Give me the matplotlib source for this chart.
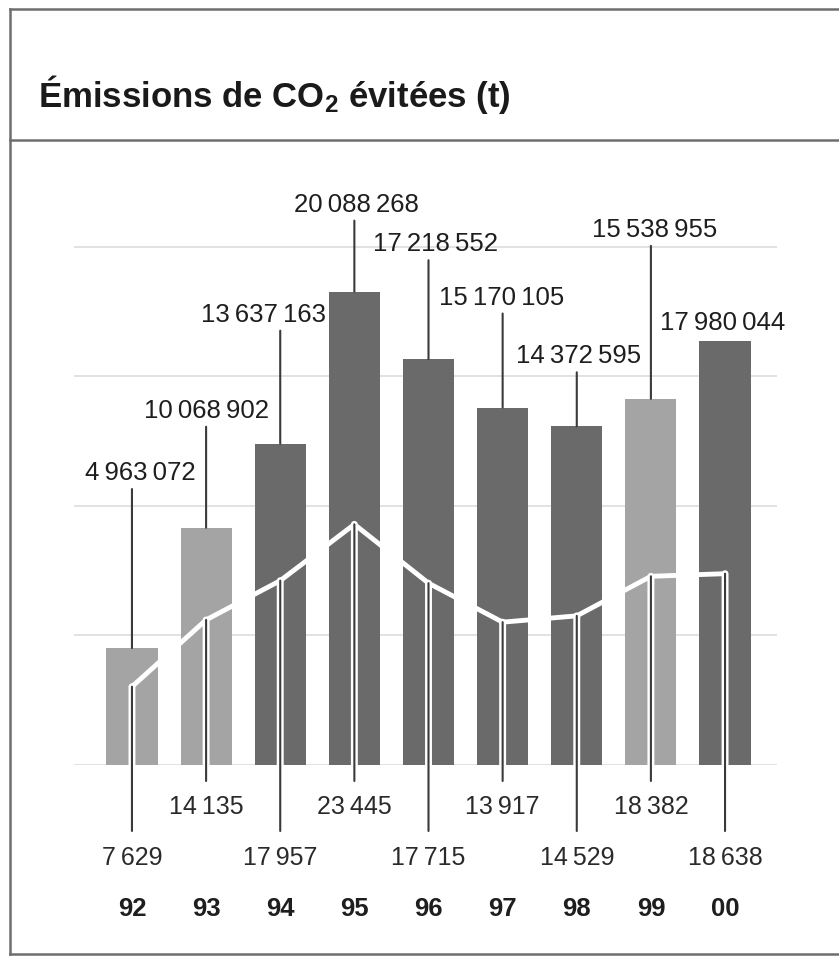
import matplotlib
matplotlib.use('Agg')
import matplotlib.pyplot as plt
from matplotlib.lines import Line2D
from matplotlib import transforms
import matplotlib.patheffects as pe

plt.rcParams['font.family'] = ['Liberation Sans', 'DejaVu Sans']
plt.rcParams['mathtext.fontset'] = 'custom'
plt.rcParams['mathtext.rm'] = 'Liberation Sans:bold'
plt.rcParams['mathtext.default'] = 'rm'

# data
years = ['92', '93', '94', '95', '96', '97', '98', '99', '00']
co2_avoided = [4963072, 10068902, 13637163, 20088268, 17218552,
               15170105, 14372595, 15538955, 17980044]
line_values = [7629, 14135, 17957, 23445, 17715, 13917, 14529, 18382, 18638]
light_bar = [True, True, False, False, False, False, False, True, False]

# label layout (pixels)
label_rise = [176, 118, 130, 88, 116, 111, 71, 170, 19]
label_dx = [8, 0, -17, 2, 7, -1, 2, 4, -2]

W, H = 839, 962
fig = plt.figure(figsize=(W / 100, H / 100), dpi=100)
fig.patch.set_facecolor('white')

ax_left, ax_right = 43, 814
baseline, ax_top = 766, 224
ax = fig.add_axes([ax_left / W, (H - baseline) / H,
                   (ax_right - ax_left) / W, (baseline - ax_top) / H])
YMAX = 23.0e6
ax.set_xlim(-1.2, 9.2)
ax.set_ylim(0, YMAX)
ax.axis('off')

ax2 = ax.twinx()
ax2.set_ylim(0, 52800)
ax2.axis('off')


def fmt(v):
    return f'{v:,}'.replace(',', '\u2009')


x = list(range(len(years)))

# faint gridlines
for g in [0, 5.5e6, 11e6, 16.5e6, 22e6]:
    ax.hlines(g, -0.78, 8.7, color='#e2e2e2', lw=1.4, zorder=0)

colors = ['#a4a4a4' if lb else '#6a6a6a' for lb in light_bar]
ax.bar(x, co2_avoided, width=0.69, color=colors, zorder=2)

ax2.plot(x, line_values, color='white', lw=3.5, solid_joinstyle='miter', zorder=3)

txt_col = '#1e1e1e'
lead_col = '#3a3a3a'

# bar labels with leader lines
for i, v in enumerate(co2_avoided):
    ax.annotate(fmt(v), xy=(i, v), xytext=(label_dx[i], label_rise[i]),
                textcoords='offset pixels', ha='center', va='center',
                fontsize=18.5, color=txt_col, annotation_clip=False)
    if label_rise[i] > 40:
        ax.annotate('', xy=(i, v), xytext=(0, label_rise[i] - 17),
                    textcoords='offset pixels', annotation_clip=False,
                    arrowprops=dict(arrowstyle='-', color=lead_col, lw=1.5,
                                    shrinkA=0, shrinkB=0))

# line labels below the baseline, two staggered rows
for i, lv in enumerate(line_values):
    row = 1 if i % 2 else 2
    lead_end = -16 if row == 1 else -66
    lab_y = -41 if row == 1 else -92
    end_tr = transforms.offset_copy(ax.transData, fig=fig, y=lead_end, units='dots')
    lab_tr = transforms.offset_copy(ax.transData, fig=fig, y=lab_y, units='dots')
    ax2.annotate('', xy=(i, lv), xytext=(i, 0), textcoords=end_tr,
                 annotation_clip=False,
                 arrowprops=dict(arrowstyle='-', color=lead_col, lw=1.5,
                                 shrinkA=0, shrinkB=0,
                                 path_effects=[pe.withStroke(linewidth=5, foreground='white')]))
    ax.text(i, 0, fmt(lv), transform=lab_tr, ha='center', va='center',
            fontsize=18, color='#2a2a2a')

# year labels
yr_tr = transforms.offset_copy(ax.transData, fig=fig, y=-143, units='dots')
for i, yr in enumerate(years):
    ax.text(i, 0, yr, transform=yr_tr, ha='center', va='center',
            fontsize=18.5, fontweight='bold', color=txt_col)

# title
fig.text(38 / W, 1 - 107 / H, 'Émissions de CO$_2$ évitées (t)',
         ha='left', va='baseline', fontsize=25, fontweight='bold', color='#1a1a1a')

# frame
frame_col = '#6e6e6e'
for xs, ys in [((10, 839), (10, 10)), ((10, 10), (10, 955)),
               ((10, 839), (141, 141)), ((10, 839), (955, 955))]:
    fig.add_artist(Line2D([xx / W for xx in xs], [1 - yy / H for yy in ys],
                          color=frame_col, lw=1.8, transform=fig.transFigure))

fig.savefig('out.png', dpi=100, facecolor='white')
